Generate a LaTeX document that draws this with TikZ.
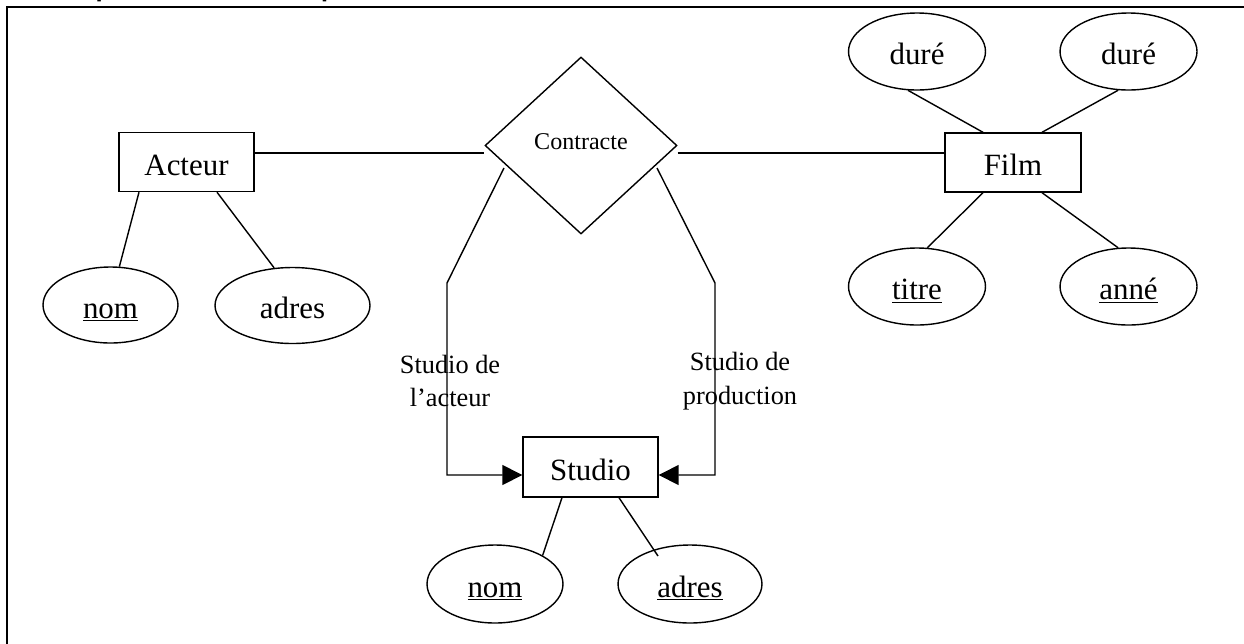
\documentclass[tikz,border=0pt]{standalone}
\usepackage{fontspec}
\setmainfont{Liberation Serif}
\setsansfont{Liberation Sans}
\usetikzlibrary{shapes.geometric,arrows.meta}

\begin{document}
\begin{tikzpicture}[x=0.02cm,y=-0.02cm,
  line width=0.8pt,
  entity/.style={draw,rectangle,inner sep=0pt,minimum width=2.7cm,minimum height=1.18cm,
    text height=14.8pt,text depth=0pt,font=\fontsize{17.6}{20}\selectfont},
  attr/.style={draw,ellipse,inner sep=0pt,minimum width=2.74cm,minimum height=1.54cm,
    text height=14.8pt,text depth=0pt,font=\fontsize{17.6}{20}\selectfont},
  assoc/.style={draw,diamond,inner sep=0pt,minimum width=3.84cm,minimum height=3.54cm,
    text height=9.4pt,text depth=4.3pt,font=\fontsize{13.7}{16}\selectfont},
  role/.style={align=center,inner sep=0pt,font=\fontsize{15}{19.3}\selectfont},
  arrowlink/.style={-{Triangle[length=0.4cm,width=0.4cm]}},
  frame/.style={line width=1.5pt}
]
\useasboundingbox (0,0) rectangle (1244,643);
\clip (0,0) rectangle (1244,643);

% heading (cut by the page edge) and outer frame
\node[anchor=base west,inner sep=0pt,font=\sffamily\bfseries\fontsize{14.7}{17}\selectfont]
  (titre-page) at (26,-4) {Exemple d’association quaternaire :};
\draw[frame] (7,7) rectangle (1270,670);

% entities and association
\node[entity] (acteur) at (186.5,162) {Acteur};
\node[entity,minimum width=2.72cm] (film) at (1013,162.5) {Film};
\node[entity,minimum height=1.2cm] (studio) at (590.5,467) {Studio};
\node[assoc] (contracte) at (581,145.5) {Contracte};

% attributes
\node[attr,minimum width=2.7cm,minimum height=1.52cm] (nomA) at (110.5,305) {\underline{nom}};
\node[attr,minimum width=3.1cm,minimum height=1.52cm] (adresA) at (292.5,305.5) {adres};
\node[attr] (duree1) at (917,51.5) {duré};
\node[attr] (duree2) at (1128.5,51.5) {duré};
\node[attr] (titre) at (917,286.5) {\underline{titre}};
\node[attr] (annee) at (1128.5,286.5) {\underline{anné}};
\node[attr,minimum width=2.72cm,minimum height=1.56cm] (nomS) at (495,584) {\underline{nom}};
\node[attr,minimum width=2.88cm,minimum height=1.56cm] (adresS) at (690,584) {\underline{adres}};

% role labels
\node[role] (roleA) at (450,381) {Studio de\\l’acteur};
\node[role] (roleP) at (740,381) {Studio de\\production};

% helper coordinates
\coordinate (hA) at (0,153);
\coordinate (hS) at (0,475);
\coordinate (kL) at (447,283);
\coordinate (kR) at (715,283);

% association links
\draw (acteur.east |- hA) -- (contracte.west |- hA);
\draw (contracte.east |- hA) -- (film.west |- hA);
\draw[arrowlink] ([shift={(-77,22.5)}]contracte.center) -- (kL) -- (kL |- hS) -- (studio.west |- hS);
\draw[arrowlink] ([shift={(76,22.5)}]contracte.center) -- (kR) -- (kR |- hS) -- (studio.east |- hS);

% attribute links
\draw ([shift={(-47.5,0)}]acteur.south) -- (nomA.77);
\draw ([shift={(30.5,0)}]acteur.south) -- (adresA.116);
\draw ([shift={(-30,0)}]film.north) -- (duree1.257);
\draw ([shift={(29,0)}]film.north) -- (duree2.255);
\draw ([shift={(-30,0)}]film.south) -- (titre.75);
\draw ([shift={(29,0)}]film.south) -- (annee.105);
\draw ([shift={(-28.5,0)}]studio.south) -- (nomS.31);
\draw ([shift={(28.5,0)}]studio.south) -- ([shift={(-32,-28)}]adresS.center);
\end{tikzpicture}
\end{document}
